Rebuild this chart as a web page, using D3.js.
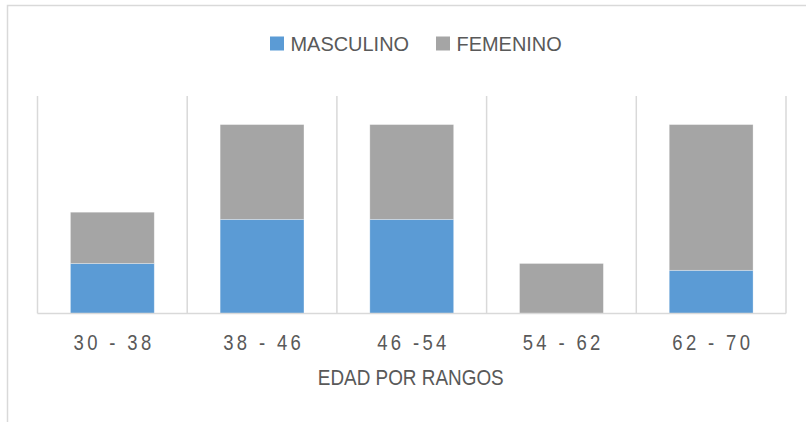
<!DOCTYPE html>
<html>
<head>
<meta charset="utf-8">
<script src="https://cdn.jsdelivr.net/npm/d3@7"></script>
<style>
  body { margin: 0; background: #fff; }
  svg text { font-family: 'Liberation Sans', Arial, sans-serif; fill: #595959; }
</style>
</head>
<body>
<svg id="chart" width="806" height="422"></svg>
<script>
// Data
const categories = ["30 - 38", "38 - 46", "46 -54", "54 - 62", "62 - 70"];
const masculino = [16.1, 30.3, 30.3, 0, 13.9];
const femenino = [16.5, 30.5, 30.5, 16.1, 46.9];
const seriesNames = ["MASCULINO", "FEMENINO"];
const seriesColors = ["#5B9BD5", "#A5A5A5"];

const size = { width: 806, height: 422, left: 37.5, right: 786, top: 96, bottom: 313.5 };

const svg = d3.select("#chart");

// chart border (only top and left visible)
svg.append("path")
    .attr("d", `M7.5,${size.height} V5.5 H${size.width}`)
    .attr("fill", "none")
    .attr("stroke", "#d9d9d9")
    .attr("stroke-width", 1.5);

// build stacked table
const table = categories.map((c, i) => ({ cat: c, MASCULINO: masculino[i], FEMENINO: femenino[i] }));
const stack = d3.stack().keys(seriesNames)(table);

const x = d3.scaleBand()
    .domain(categories)
    .range([size.left, size.right])
    .paddingInner(0.44)
    .paddingOuter(0.22);

const y = d3.scaleLinear()
    .domain([0, 70])
    .range([size.bottom, size.top]);

// vertical gridlines at category boundaries
const bounds = d3.range(categories.length + 1).map(i => size.left + i * x.step());
svg.append("g").selectAll("line")
    .data(bounds)
    .enter().append("line")
    .attr("x1", d => d).attr("x2", d => d)
    .attr("y1", size.top).attr("y2", size.bottom)
    .attr("stroke", "#d9d9d9")
    .attr("stroke-width", 1.5);

// bars
svg.append("g").selectAll("g")
    .data(stack)
    .enter().append("g")
    .attr("fill", (d, i) => seriesColors[i])
    .selectAll("rect")
    .data(d => d)
    .enter().append("rect")
    .attr("x", d => x(d.data.cat))
    .attr("y", d => y(d[1]))
    .attr("width", x.bandwidth())
    .attr("height", d => y(d[0]) - y(d[1]))
    .attr("stroke", "#ffffff")
    .attr("stroke-opacity", 0.4)
    .attr("stroke-width", 0.75);

// baseline
svg.append("line")
    .attr("x1", size.left).attr("x2", size.right)
    .attr("y1", size.bottom).attr("y2", size.bottom)
    .attr("stroke", "#d9d9d9")
    .attr("stroke-width", 1.5);

// category axis (narrow, spaced-out digits)
const xAxis = svg.append("g")
    .attr("transform", `translate(0,${size.bottom})`)
    .call(d3.axisBottom(x).tickSize(0).tickPadding(21));
xAxis.select(".domain").remove();
xAxis.selectAll("text")
    .attr("font-size", 22)
    .attr("letter-spacing", 4)
    .attr("dx", 2)
    .attr("fill", "#595959")
    .attr("transform", "scale(0.84,1)");

// axis title
svg.append("text")
    .attr("transform", `translate(${(size.left + size.right) / 2 - 1},384.5) scale(0.86,1)`)
    .attr("text-anchor", "middle")
    .attr("font-size", 22)
    .text("EDAD POR RANGOS");

// legend
const legendX = [270, 436];
const legend = svg.append("g").selectAll("g")
    .data(seriesNames)
    .enter().append("g")
    .attr("transform", (d, i) => `translate(${legendX[i]},36.5)`);
legend.append("rect")
    .attr("width", 14).attr("height", 14)
    .attr("fill", (d, i) => seriesColors[i]);
legend.append("text")
    .attr("transform", "translate(20.5,14) scale(0.95,1)")
    .attr("font-size", 21)
    .text(d => d);
</script>
</body>
</html>
